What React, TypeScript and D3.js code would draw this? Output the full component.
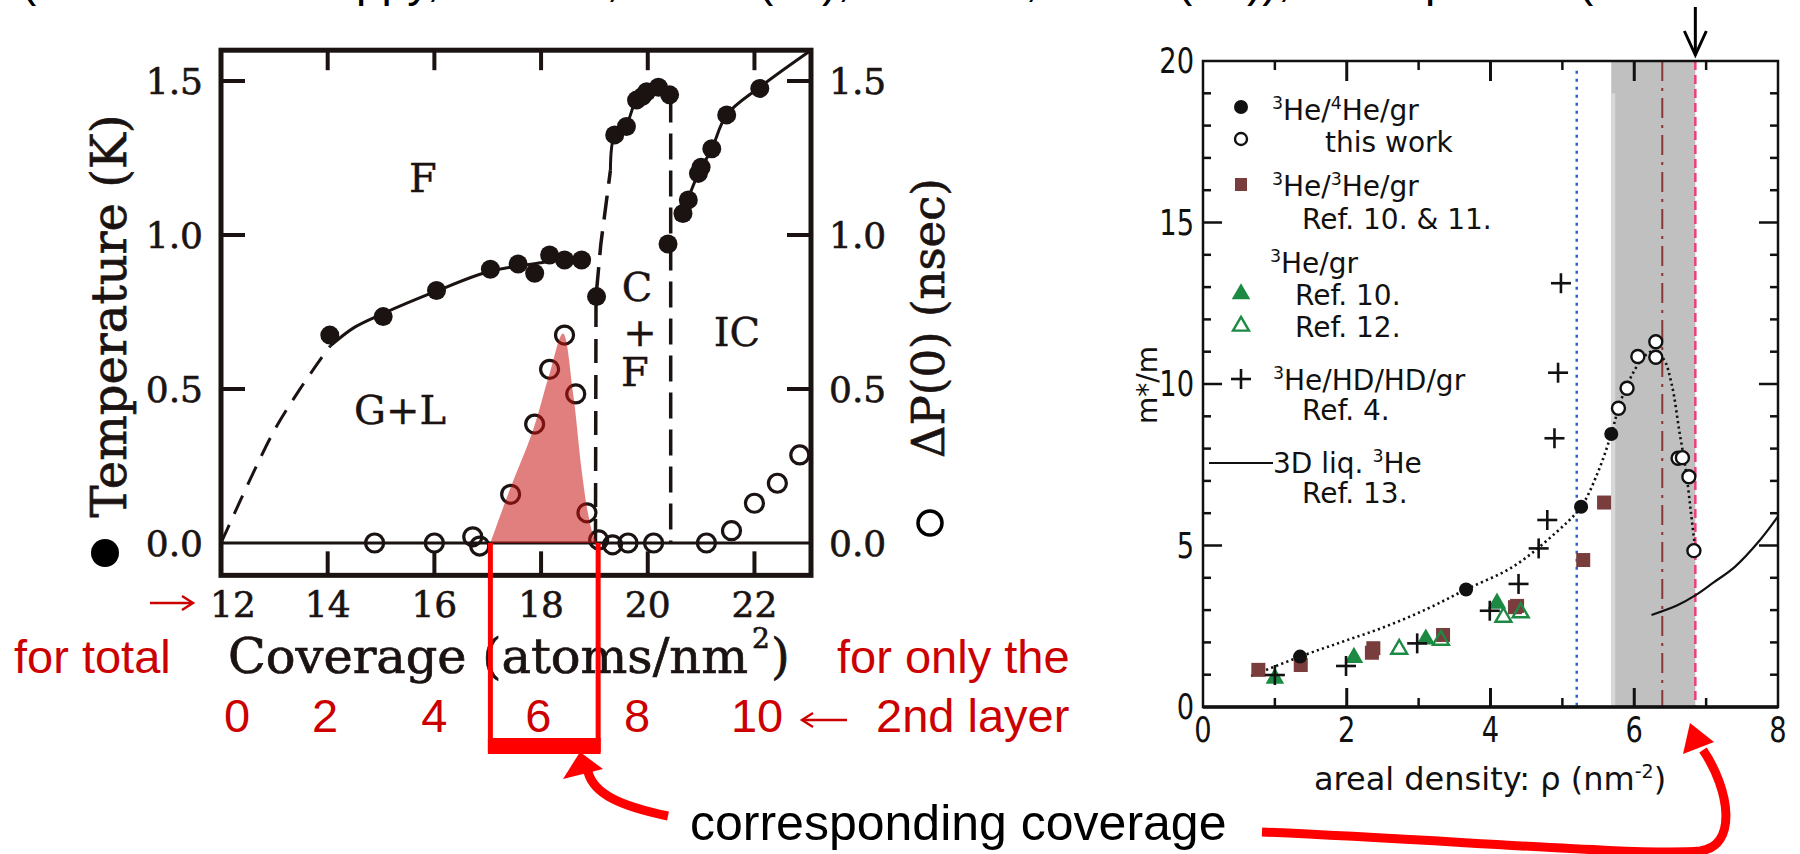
import React from 'react';
import * as d3 from 'd3';

type P = [number, number];

// ---------------- Left panel (phase diagram) data ----------------
const coverageTicks = [14, 16, 18, 20, 22];
const coverageLabels = [12, 14, 16, 18, 20, 22];
const tempTicks = [0.5, 1.0, 1.5];
const tempLabels = [0.0, 0.5, 1.0, 1.5];
const secondLayerLabels = ['0', '2', '4', '6', '8', '10'];
const secondLayerAtCoverage = [12.3, 13.95, 16.0, 17.95, 19.8, 22.05];

// filled circles: temperature (K)
const tempPoints: P[] = [
  [14.04, 0.675], [15.04, 0.735], [16.04, 0.82], [17.05, 0.889], [17.57, 0.906],
  [17.88, 0.876], [18.16, 0.935], [18.44, 0.919], [18.76, 0.919], [19.04, 0.80],
  [19.38, 1.325], [19.6, 1.352], [19.79, 1.438], [19.9, 1.45], [19.98, 1.465],
  [20.2, 1.48], [20.41, 1.455], [20.38, 0.971],
  [20.66, 1.07], [20.76, 1.114], [20.95, 1.2], [21.0, 1.22], [21.2, 1.28],
  [21.48, 1.39], [22.1, 1.476],
];
// open circles: ΔP(0) (nsec)
const deltaPPoints: P[] = [
  [14.88, 0], [16.0, 0], [16.72, 0.02], [16.85, -0.01], [17.43, 0.158], [17.88, 0.386],
  [18.16, 0.564], [18.44, 0.675], [18.65, 0.484], [18.86, 0.098], [19.08, 0.01],
  [19.34, -0.006], [19.63, 0], [20.11, 0], [21.1, 0], [21.57, 0.04], [22.0, 0.129],
  [22.43, 0.194], [22.85, 0.286],
];
const gasLiquidDashed: P[] = [[12, 0.0], [12.66, 0.248], [13.04, 0.378], [13.47, 0.497], [13.88, 0.6], [14.05, 0.64]];
const fluidSolid: P[] = [[14.05, 0.64], [14.5, 0.70], [15.04, 0.745], [16.0, 0.815], [17.0, 0.88], [18.0, 0.91], [18.9, 0.93]];
const cfLeftDashed: P[] = [[19.02, 0.0], [19.03, 0.80], [19.12, 0.97], [19.3, 1.21]];
const cfLeftSolid: P[] = [[19.3, 1.21], [19.38, 1.325], [19.6, 1.36], [19.79, 1.44], [20.0, 1.47], [20.2, 1.485], [20.42, 1.455]];
const cfRightDashed: P[] = [[20.43, 1.45], [20.43, 0.0]];
const icSolid: P[] = [[20.52, 1.05], [20.66, 1.075], [20.76, 1.12], [20.95, 1.2], [21.2, 1.28], [21.48, 1.39], [22.1, 1.48], [23.06, 1.6]];
const peakArea: P[] = [
  [17.05, 0], [17.4, 0.167], [17.85, 0.367], [18.16, 0.55], [18.41, 0.68], [18.6, 0.486],
  [18.76, 0.237], [18.88, 0.096], [19.0, 0.015], [19.07, 0],
];
const highlightRange: P = [17.05, 19.07];

// ---------------- Right panel (m*/m) data ----------------
const rhoMajor = [2, 4, 6];
const rhoMinor = [1, 3, 5, 7];
const rhoLabels = [0, 2, 4, 6, 8];
const mMajor = [5, 10, 15];
const mMinor = [1, 2, 3, 4, 6, 7, 8, 9, 11, 12, 13, 14, 16, 17, 18, 19];
const mLabels = [0, 5, 10, 15, 20];

const thisWorkFilled: P[] = [[1.35, 1.56], [3.66, 3.64], [5.26, 6.2], [5.68, 8.45]];
const thisWorkOpen: P[] = [
  [5.78, 9.25], [5.90, 9.87], [6.05, 10.85], [6.30, 10.83], [6.30, 11.31],
  [6.61, 7.70], [6.67, 7.72], [6.76, 7.13], [6.83, 4.84],
];
const he3he3Squares: P[] = [
  [0.77, 1.15], [1.36, 1.30], [2.35, 1.68], [2.37, 1.82], [3.34, 2.23],
  [4.34, 3.09], [4.37, 3.13], [5.29, 4.55], [5.58, 6.33],
];
const ref10Triangles: P[] = [[1.0, 0.89], [2.10, 1.53], [3.10, 2.10], [4.09, 3.21]];
const ref12Triangles: P[] = [[2.73, 1.79], [3.31, 2.07], [4.18, 2.78], [4.42, 2.92]];
const hdPlus: P[] = [
  [1.0, 0.99], [1.99, 1.27], [2.98, 1.97], [3.99, 2.98], [4.39, 3.81],
  [4.67, 4.91], [4.79, 5.79], [4.89, 8.32], [4.94, 10.35], [4.98, 13.12],
];
const fitCurve: P[] = [
  [0.67, 0.96], [1.35, 1.56], [1.94, 2.02], [2.54, 2.49], [3.13, 3.05], [3.66, 3.64],
  [4.31, 4.34], [4.9, 5.38], [5.26, 6.2], [5.5, 7.3], [5.68, 8.45], [5.8, 9.4],
  [5.95, 10.2], [6.1, 10.75], [6.24, 11.0], [6.4, 10.8], [6.52, 10.0], [6.63, 8.5],
  [6.72, 7.3], [6.79, 6.0], [6.85, 4.85],
];
const liquid3D: P[] = [[6.24, 2.85], [6.6, 3.15], [6.86, 3.47], [7.1, 3.85], [7.4, 4.34], [7.75, 5.17], [8.0, 5.9]];
const grayBand: P = [5.68, 6.85];
const blueLine = 5.2;
const dashDotLine = 6.39;
const pinkLine = 6.85;

// cropped caption line at the very top of the page (only descenders visible)
const topFragments = ['(', 'ppy,', ',', '(', '),', ',', '(', ')),', 'p', '('];
const topFragmentX = [21, 356, 606, 758, 822, 1025, 1177, 1247, 1425, 1578];

// ---------------- scales ----------------
const xL = d3.scaleLinear().domain([12, 23.06]).range([221, 811]);
const yL = d3.scaleLinear().domain([0, 1.5]).range([543, 81]);
const xR = d3.scaleLinear().domain([0, 8]).range([1203, 1778]);
const yR = d3.scaleLinear().domain([0, 20]).range([707, 61]);

const lineL = d3.line<P>().x(d => xL(d[0])).y(d => yL(d[1]));
const curveL = d3.line<P>().x(d => xL(d[0])).y(d => yL(d[1])).curve(d3.curveCatmullRom.alpha(0.5));
const areaL = d3.area<P>().x(d => xL(d[0])).y0(yL(0)).y1(d => yL(d[1])).curve(d3.curveCatmullRom.alpha(0.5));
const curveR = d3.line<P>().x(d => xR(d[0])).y(d => yR(d[1])).curve(d3.curveCatmullRom.alpha(0.5));

const triFilled = d3.symbol(d3.symbolTriangle, 150)() as string;
const triOpen = d3.symbol(d3.symbolTriangle, 110)() as string;

const SERIF = 'DejaVu Serif';
const SANS = 'DejaVu Sans';
const RED_TXT = '#cc0000';
const RED = '#ff0000';

const fmt1 = d3.format('.1f');

type Part = { t: string; sup?: boolean };
const SupText = ({ x, y, parts, size }: { x: number; y: number; parts: Part[]; size: number }) => {
  const s = size * 0.62;
  const up = size * 0.4;
  let raised = false;
  return (
    <text x={x} y={y} fontFamily={SANS} fontSize={size} fill="#111">
      {parts.map((p, i) => {
        let dy = 0;
        if (p.sup && !raised) { dy = -up; raised = true; }
        else if (!p.sup && raised) { dy = up; raised = false; }
        return (
          <tspan key={i} dy={dy} fontSize={p.sup ? s : size}>{p.t}</tspan>
        );
      })}
    </text>
  );
};

// condensed number label for the right panel
const NarrowNum = ({ x, y, t, anchor }: { x: number; y: number; t: string; anchor: 'start' | 'middle' | 'end' }) => (
  <text transform={`translate(${x},${y}) scale(0.78,1)`} textAnchor={anchor}
    fontFamily={SANS} fontSize={35} fill="#111">{t}</text>
);

export default function App() {
  const fTop = yL(1.6);
  const fBot = yL(-0.105);
  const fL = xL(12);
  const fR = xL(23.06);
  const rTop = yR(20);
  const rBot = yR(0);
  const rL = xR(0);
  const rR = xR(8);
  const arrowX = xR(pinkLine);

  const legendX = 1241;
  return (
    <svg width={1800} height={854} viewBox="0 0 1800 854"
      style={{ position: 'absolute', left: 0, top: 0, background: '#fff' }}>
      <rect x={0} y={0} width={1800} height={854} fill="#fff" />

      {/* cropped line of text at the very top */}
      <g fontFamily="Liberation Sans" fontSize={46} fill="#000">
        {topFragments.map((t, i) => (
          <text key={i} x={topFragmentX[i]} y={-4}>{t}</text>
        ))}
      </g>

      {/* ============ LEFT PANEL ============ */}
      <g>
        <path d={curveL(gasLiquidDashed) || ''} fill="none" stroke="#1a1311" strokeWidth={3} strokeDasharray="20 12" />
        <path d={curveL(fluidSolid) || ''} fill="none" stroke="#1a1311" strokeWidth={3} />
        <path d={lineL(cfLeftDashed) || ''} fill="none" stroke="#1a1311" strokeWidth={3.5} strokeDasharray="24 12" />
        <path d={curveL(cfLeftSolid) || ''} fill="none" stroke="#1a1311" strokeWidth={3} />
        <path d={lineL(cfRightDashed) || ''} fill="none" stroke="#1a1311" strokeWidth={3.5} strokeDasharray="26 11" />
        <path d={curveL(icSolid) || ''} fill="none" stroke="#1a1311" strokeWidth={3} />

        <line x1={fL} x2={fR} y1={yL(0)} y2={yL(0)} stroke="#1a1311" strokeWidth={3} />

        {coverageTicks.map(v => (
          <g key={v}>
            <line x1={xL(v)} x2={xL(v)} y1={fBot} y2={fBot - 24} stroke="#1a1311" strokeWidth={4} />
            <line x1={xL(v)} x2={xL(v)} y1={fTop} y2={fTop + 20} stroke="#1a1311" strokeWidth={4} />
          </g>
        ))}
        {tempTicks.map(v => (
          <g key={v}>
            <line x1={fL} x2={fL + 24} y1={yL(v)} y2={yL(v)} stroke="#1a1311" strokeWidth={4} />
            <line x1={fR} x2={fR - 24} y1={yL(v)} y2={yL(v)} stroke="#1a1311" strokeWidth={4} />
          </g>
        ))}

        <rect x={fL} y={fTop} width={fR - fL} height={fBot - fTop} fill="none" stroke="#1a1311" strokeWidth={5} />

        {deltaPPoints.map((d, i) => (
          <circle key={i} cx={xL(d[0])} cy={yL(d[1])} r={9} fill="#fff" fillOpacity={0} stroke="#1a1311" strokeWidth={3.2} />
        ))}
        {tempPoints.map((d, i) => (
          <circle key={i} cx={xL(d[0])} cy={yL(d[1])} r={9.5} fill="#1a1311" />
        ))}

        <path d={areaL(peakArea) || ''} fill="#c81414" fillOpacity={0.55} />

        <g fontFamily={SERIF} fontSize={36} fill="#1a1311" stroke="#1a1311" strokeWidth={0.6}>
          {tempLabels.map(v => (
            <text key={'l' + v} x={203} y={yL(v)} dy="0.36em" textAnchor="end">{fmt1(v)}</text>
          ))}
          {tempLabels.map(v => (
            <text key={'r' + v} x={829} y={yL(v)} dy="0.36em" textAnchor="start">{fmt1(v)}</text>
          ))}
          {coverageLabels.map(v => (
            <text key={'b' + v} x={Math.max(xL(v), xL(12) + 12)} y={617} textAnchor="middle">{v}</text>
          ))}
        </g>

        <g fontFamily={SERIF} fontSize={40} fill="#1a1311" textAnchor="middle" stroke="#1a1311" strokeWidth={0.4}>
          <text x={423} y={178} dy="0.36em">F</text>
          <text x={400} y={410} dy="0.36em">G+L</text>
          <text x={637} y={287} dy="0.36em">C</text>
          <text x={640} y={332} dy="0.36em">+</text>
          <text x={635} y={372} dy="0.36em">F</text>
          <text x={737} y={332} dy="0.36em">IC</text>
        </g>

        <g fontFamily={SERIF} fill="#1a1311" stroke="#1a1311" strokeWidth={0.7}>
          <text transform="translate(126,316) rotate(-90)" fontSize={48} textAnchor="middle">Temperature (K)</text>
          <text transform="translate(944,318) rotate(-90)" fontSize={45} textAnchor="middle">ΔP(0)  (nsec)</text>
          <text x={228} y={673} fontSize={48} textLength={520} lengthAdjust="spacingAndGlyphs">Coverage (atoms/nm</text>
          <text x={752} y={648} fontSize={28}>2</text>
          <text x={771} y={673} fontSize={48}>)</text>
        </g>
        <circle cx={105} cy={553} r={14} fill="#000" />
        <circle cx={930} cy={523} r={12} fill="none" stroke="#000" strokeWidth={3.5} />
      </g>

      {/* red annotations on the left */}
      <g fontFamily="Liberation Sans" fill={RED_TXT}>
        <text x={14} y={673} fontSize={47}>for total</text>
        <text x={837} y={673} fontSize={47}>for only the</text>
        {secondLayerLabels.map((t, i) => (
          <text key={t} x={xL(secondLayerAtCoverage[i])} y={732} fontSize={47} textAnchor="middle">{t}</text>
        ))}
        <text x={876} y={732} fontSize={47}>2nd layer</text>
      </g>
      <g stroke={RED_TXT} strokeWidth={2.4} fill="none">
        <line x1={150} x2={192} y1={603} y2={603} />
        <polyline points="182,596 193,603 182,610" />
        <line x1={803} x2={847} y1={720} y2={720} />
        <polyline points="813,713 802,720 813,727" />
      </g>
      <g stroke={RED} fill="none">
        <line x1={xL(highlightRange[0])} x2={xL(highlightRange[0])} y1={yL(0)} y2={752} strokeWidth={5} />
        <line x1={xL(highlightRange[1])} x2={xL(highlightRange[1])} y1={yL(0)} y2={752} strokeWidth={5} />
      </g>
      <rect x={xL(highlightRange[0]) - 2.5} y={738} width={xL(highlightRange[1]) - xL(highlightRange[0]) + 5} height={16} fill={RED} />

      {/* bottom caption & arrows */}
      <text x={690} y={840} fontFamily="Liberation Sans" fontSize={50} fill="#000">corresponding coverage</text>
      <path d="M 668 816 C 620 806, 594 794, 588 772" fill="none" stroke={RED} strokeWidth={9} />
      <polygon points="580,752 563,779 603,769" fill={RED} />
      <path d="M 1262 832 C 1450 840, 1640 856, 1700 851 C 1738 846, 1730 790, 1703 750" fill="none" stroke={RED} strokeWidth={9} />
      <polygon points="1690,723 1683,754 1714,742" fill={RED} />

      {/* ============ RIGHT PANEL ============ */}
      <g>
        <rect x={xR(grayBand[0])} y={rTop} width={xR(grayBand[1]) - xR(grayBand[0])} height={rBot - rTop} fill="#c0c0c0" />
        <rect x={xR(grayBand[0])} y={yR(19)} width={4} height={rBot - yR(19)} fill="#d8d8d8" />
        <line x1={xR(blueLine)} x2={xR(blueLine)} y1={yR(19.7)} y2={rBot} stroke="#2f62c8" strokeWidth={2.5} strokeDasharray="3 5" />
        <line x1={xR(dashDotLine)} x2={xR(dashDotLine)} y1={rTop} y2={rBot} stroke="#8a3636" strokeWidth={2} strokeDasharray="20 7 3 7" />
        <line x1={xR(pinkLine)} x2={xR(pinkLine)} y1={rTop} y2={rBot} stroke="#ec3d7c" strokeWidth={2.5} strokeDasharray="9 5" />

        <g stroke="#111" strokeWidth={2.5}>
          {mMajor.map(v => (
            <g key={v}>
              <line x1={rL} x2={rL + 19} y1={yR(v)} y2={yR(v)} />
              <line x1={rR} x2={rR - 19} y1={yR(v)} y2={yR(v)} />
            </g>
          ))}
          {mMinor.map(v => (
            <g key={v}>
              <line x1={rL} x2={rL + 8} y1={yR(v)} y2={yR(v)} />
              <line x1={rR} x2={rR - 8} y1={yR(v)} y2={yR(v)} />
            </g>
          ))}
          {rhoMajor.map(v => (
            <g key={v}>
              <line x1={xR(v)} x2={xR(v)} y1={rBot} y2={rBot - 19} strokeWidth={3} />
              <line x1={xR(v)} x2={xR(v)} y1={rTop} y2={rTop + 20} strokeWidth={3} />
            </g>
          ))}
          {rhoMinor.map(v => (
            <g key={v}>
              <line x1={xR(v)} x2={xR(v)} y1={rBot} y2={rBot - 9} />
              <line x1={xR(v)} x2={xR(v)} y1={rTop} y2={rTop + 9} />
            </g>
          ))}
        </g>
        <rect x={rL} y={rTop} width={rR - rL} height={rBot - rTop} fill="none" stroke="#111" strokeWidth={2.5} />
        <line x1={rL} x2={rR} y1={rBot} y2={rBot} stroke="#111" strokeWidth={3.5} />

        <path d={curveR(fitCurve) || ''} fill="none" stroke="#111" strokeWidth={2.6} strokeDasharray="2.2 3.2" />
        <path d={curveR(liquid3D) || ''} fill="none" stroke="#111" strokeWidth={2.2} />

        {he3he3Squares.map((d, i) => (
          <rect key={i} x={xR(d[0]) - 7} y={yR(d[1]) - 7} width={14} height={14} fill="#7a3d3d" />
        ))}
        {ref12Triangles.map((d, i) => (
          <path key={i} d={triOpen} transform={`translate(${xR(d[0])},${yR(d[1])})`} fill="none" stroke="#1d8a44" strokeWidth={2.4} />
        ))}
        {ref10Triangles.map((d, i) => (
          <path key={i} d={triFilled} transform={`translate(${xR(d[0])},${yR(d[1])})`} fill="#1d8a44" />
        ))}
        {hdPlus.map((d, i) => (
          <g key={i} stroke="#111" strokeWidth={2.6}>
            <line x1={xR(d[0]) - 10} x2={xR(d[0]) + 10} y1={yR(d[1])} y2={yR(d[1])} />
            <line x1={xR(d[0])} x2={xR(d[0])} y1={yR(d[1]) - 10} y2={yR(d[1]) + 10} />
          </g>
        ))}
        {thisWorkFilled.map((d, i) => (
          <circle key={i} cx={xR(d[0])} cy={yR(d[1])} r={7} fill="#111" />
        ))}
        {thisWorkOpen.map((d, i) => (
          <circle key={i} cx={xR(d[0])} cy={yR(d[1])} r={6.5} fill="#fff" stroke="#111" strokeWidth={2.4} />
        ))}

        {mLabels.map(v => (
          <NarrowNum key={'m' + v} x={rL - 9} y={yR(v) + 12} t={String(v)} anchor="end" />
        ))}
        {rhoLabels.map(v => (
          <NarrowNum key={'r' + v} x={xR(v)} y={742} t={String(v)} anchor="middle" />
        ))}
        <text transform="translate(1157,385) rotate(-90)" fontFamily={SANS} fontSize={28} textAnchor="middle" fill="#111">m*/m</text>
        <text x={1490} y={790} fontFamily={SANS} fontSize={32} textAnchor="middle" fill="#111">
          areal density: ρ (nm<tspan dy={-12} fontSize={19}>-2</tspan><tspan dy={12}>)</tspan>
        </text>

        {/* legend */}
        <circle cx={legendX} cy={107} r={7} fill="#111" />
        <SupText x={1272} y={120} size={28} parts={[{ t: '3', sup: true }, { t: 'He/' }, { t: '4', sup: true }, { t: 'He/gr' }]} />
        <circle cx={legendX} cy={139} r={6} fill="#fff" stroke="#111" strokeWidth={2.4} />
        <text x={1325} y={152} fontFamily={SANS} fontSize={28} fill="#111">this work</text>

        <rect x={legendX - 6} y={178} width={12} height={13} fill="#7a3d3d" />
        <SupText x={1272} y={196} size={28} parts={[{ t: '3', sup: true }, { t: 'He/' }, { t: '3', sup: true }, { t: 'He/gr' }]} />
        <text x={1302} y={229} fontFamily={SANS} fontSize={28} fill="#111">Ref. 10. &amp; 11.</text>

        <SupText x={1270} y={273} size={28} parts={[{ t: '3', sup: true }, { t: 'He/gr' }]} />
        <path d={triFilled} transform={`translate(${legendX},294)`} fill="#1d8a44" />
        <text x={1295} y={305} fontFamily={SANS} fontSize={28} fill="#111">Ref. 10.</text>
        <path d={triOpen} transform={`translate(${legendX},326)`} fill="none" stroke="#1d8a44" strokeWidth={2.4} />
        <text x={1295} y={337} fontFamily={SANS} fontSize={28} fill="#111">Ref. 12.</text>

        <g stroke="#111" strokeWidth={2.6}>
          <line x1={legendX - 10} x2={legendX + 10} y1={379} y2={379} />
          <line x1={legendX} x2={legendX} y1={369} y2={389} />
        </g>
        <SupText x={1273} y={390} size={28} parts={[{ t: '3', sup: true }, { t: 'He/HD/HD/gr' }]} />
        <text x={1302} y={420} fontFamily={SANS} fontSize={28} fill="#111">Ref. 4.</text>

        <line x1={1209} x2={1273} y1={463} y2={463} stroke="#111" strokeWidth={2} />
        <SupText x={1273} y={473} size={28} parts={[{ t: '3D liq. ' }, { t: '3', sup: true }, { t: 'He' }]} />
        <text x={1302} y={503} fontFamily={SANS} fontSize={28} fill="#111">Ref. 13.</text>

        <line x1={arrowX} x2={arrowX} y1={7} y2={54} stroke="#000" strokeWidth={3} />
        <polyline points={`${arrowX - 11},31 ${arrowX},55 ${arrowX + 11},31`} fill="none" stroke="#000" strokeWidth={3} />
      </g>
    </svg>
  );
}
